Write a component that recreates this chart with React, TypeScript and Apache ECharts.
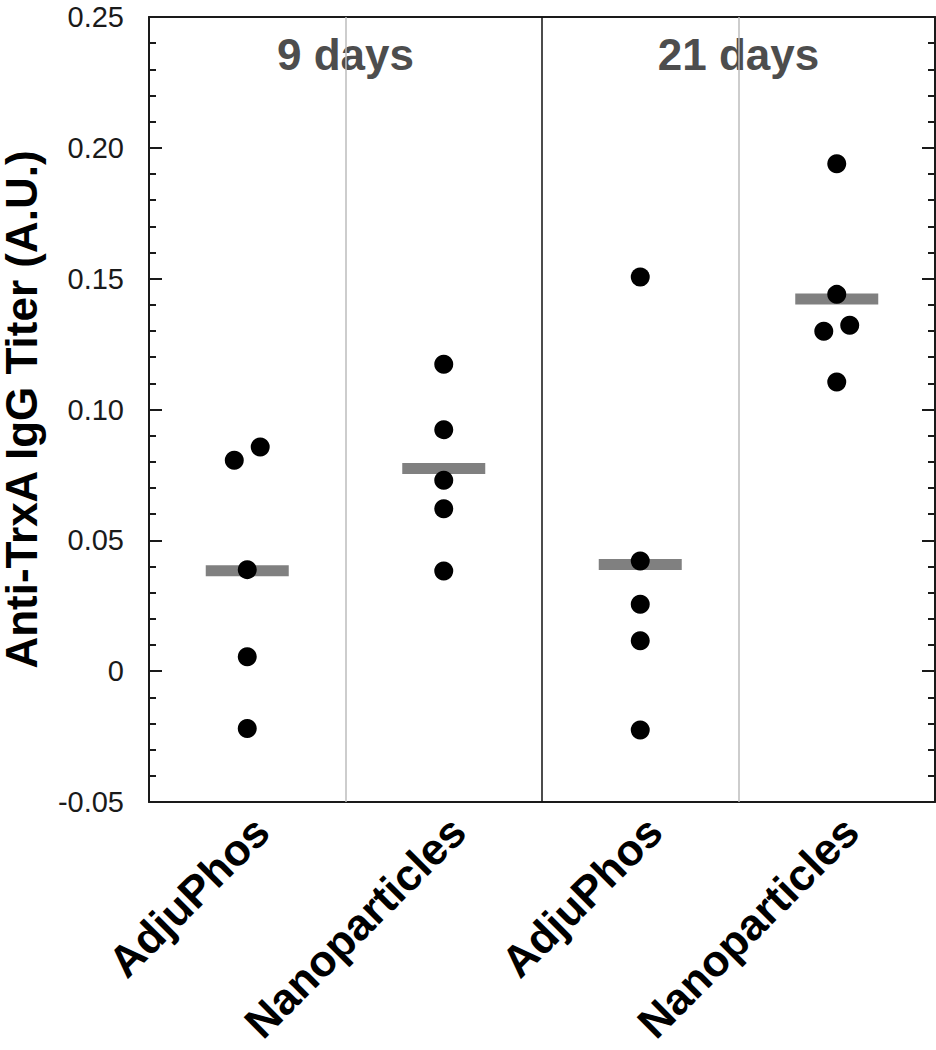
import React, { useEffect, useRef } from "react";
import * as echarts from "echarts";

// ---- data ----
const categories = ["AdjuPhos", "Nanoparticles", "AdjuPhos", "Nanoparticles"];
const groupTitles = ["9 days", "21 days"];
const adjuPhos9 = [0.0857, 0.0806, 0.0388, 0.0055, -0.0219];
const nano9 = [0.1173, 0.0923, 0.073, 0.0621, 0.0383];
const adjuPhos21 = [0.1506, 0.0421, 0.0256, 0.0116, -0.0225];
const nano21 = [0.1939, 0.144, 0.1322, 0.1299, 0.1105];
const groups = [adjuPhos9, nano9, adjuPhos21, nano21];
// horizontal jitter (in category units) for overlapping points
const jitter = [
  [0.066, -0.066, 0, 0, 0],
  [0, 0, 0, 0, 0],
  [0, 0, 0, 0, 0],
  [0, 0, 0.066, -0.066, 0],
];
const means = [0.0384, 0.0775, 0.0408, 0.1422];
const yTicks = { min: -0.05, max: 0.25, interval: 0.05 };

const FONT = "'Liberation Sans', Arial, Helvetica, sans-serif";
const AXIS_COLOR = "#1a1a1a";

export default function App() {
  const ref = useRef<HTMLDivElement>(null);
  useEffect(() => {
    document.body.style.margin = "0";
    const chart = echarts.init(ref.current!, null, { renderer: "svg" });
    const points: number[][] = [];
    groups.forEach((vals, gi) =>
      vals.forEach((v, k) => points.push([gi + 0.5 + jitter[gi][k], v]))
    );
    const meanData = means.map((m, i) => [i + 0.5, m]);
    const titleData = groupTitles.map((t, i) => ({
      value: [1 + 2 * i, 0.2355],
      label: { formatter: t },
    }));
    const yCommon = {
      type: "value",
      min: yTicks.min,
      max: yTicks.max,
      interval: yTicks.interval,
      gridIndex: 0,
      axisLine: { show: true, onZero: false, lineStyle: { color: AXIS_COLOR, width: 2 } },
      axisTick: { show: true, inside: true, length: 13, lineStyle: { color: AXIS_COLOR, width: 2 } },
      minorTick: { show: true, splitNumber: 5, length: 7, lineStyle: { color: AXIS_COLOR, width: 2 } },
      splitLine: { show: false },
      minorSplitLine: { show: false },
    };
    chart.setOption({
      animation: false,
      textStyle: { fontFamily: FONT },
      grid: [
        { left: 149, right: 1, top: 17, bottom: 248, outerBoundsMode: "none", containLabel: false },
        { left: 163, right: -13, top: 17, bottom: 248, outerBoundsMode: "none", containLabel: false },
      ],
      xAxis: [
        {
          type: "value",
          gridIndex: 0,
          min: 0,
          max: 4,
          position: "bottom",
          axisLine: { show: true, onZero: false, lineStyle: { color: AXIS_COLOR, width: 2 } },
          axisTick: { show: false },
          axisLabel: { show: false },
          splitLine: { show: false },
        },
        {
          type: "value",
          gridIndex: 0,
          min: 0,
          max: 4,
          position: "top",
          axisLine: { show: true, onZero: false, lineStyle: { color: AXIS_COLOR, width: 2 } },
          axisTick: { show: false },
          axisLabel: { show: false },
          splitLine: { show: false },
        },
        {
          type: "category",
          gridIndex: 1,
          data: categories,
          boundaryGap: true,
          position: "bottom",
          axisLine: { show: false },
          axisTick: { show: false },
          axisLabel: {
            interval: 0,
            rotate: 45,
            margin: 22,
            fontSize: 44,
            fontWeight: "bold",
            color: "#000",
            fontFamily: FONT,
          },
        },
      ],
      yAxis: [
        {
          ...yCommon,
          position: "left",
          name: "Anti-TrxA IgG Titer (A.U.)",
          nameLocation: "middle",
          nameGap: 108,
          nameTextStyle: {
            fontSize: 44,
            lineHeight: 40,
            fontWeight: "bold",
            color: "#000",
            fontFamily: FONT,
          },
          axisLabel: {
            fontSize: 29,
            color: AXIS_COLOR,
            margin: 25,
            fontFamily: FONT,
            formatter: (v: number) => (Math.abs(v) < 1e-9 ? "0" : v.toFixed(2)),
          },
        },
        {
          ...yCommon,
          position: "right",
          axisLabel: { show: false },
        },
        {
          type: "value",
          gridIndex: 1,
          show: false,
          min: yTicks.min,
          max: yTicks.max,
        },
      ],
      series: [
        {
          type: "scatter",
          xAxisIndex: 0,
          yAxisIndex: 0,
          data: meanData,
          symbol: "rect",
          symbolSize: [83, 11],
          itemStyle: { color: "#808080", opacity: 1 },
          z: 2,
          silent: true,
          markLine: {
            silent: true,
            symbol: "none",
            label: { show: false },
            data: [
              { xAxis: 1, lineStyle: { color: "#bdbdbd", width: 1.5, type: "solid" } },
              { xAxis: 2, lineStyle: { color: "#111", width: 1.5, type: "solid" } },
              { xAxis: 3, lineStyle: { color: "#bdbdbd", width: 1.5, type: "solid" } },
            ],
          },
        },
        {
          type: "scatter",
          xAxisIndex: 0,
          yAxisIndex: 0,
          data: points,
          symbol: "circle",
          symbolSize: 19,
          itemStyle: { color: "#000", opacity: 1 },
          z: 3,
        },
        {
          type: "scatter",
          xAxisIndex: 0,
          yAxisIndex: 0,
          data: titleData,
          symbolSize: 0,
          itemStyle: { opacity: 1 },
          z: 4,
          label: {
            show: true,
            position: "inside",
            fontSize: 44,
            fontWeight: "bold",
            color: "#4d4d4d",
            fontFamily: FONT,
          },
        },
      ],
    });
    return () => chart.dispose();
  }, []);
  return <div ref={ref} style={{ width: 936, height: 1050 }} />;
}
